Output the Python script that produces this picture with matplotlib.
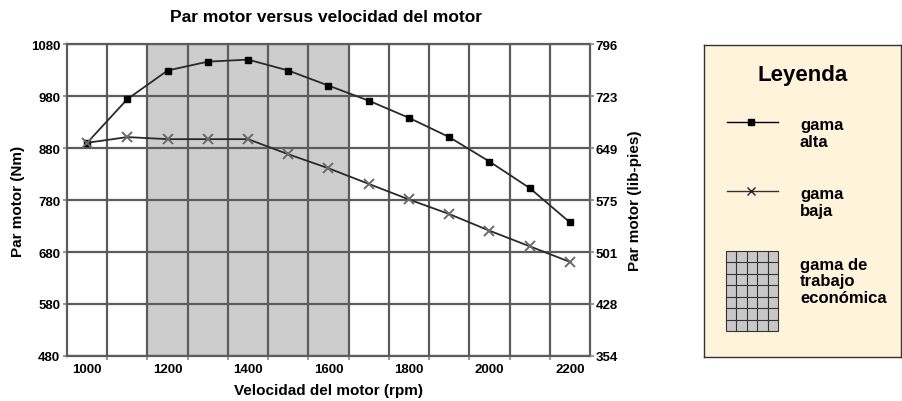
import matplotlib
matplotlib.use("Agg")
import matplotlib.pyplot as plt
from matplotlib.patches import Rectangle

plt.rcParams['font.family'] = ['Liberation Sans', 'DejaVu Sans']
plt.rcParams['font.weight'] = 'bold'

rpm = [1000, 1100, 1200, 1300, 1400, 1500, 1600, 1700, 1800, 1900, 2000, 2100, 2200]
gama_alta = [890, 974, 1029, 1046, 1050, 1029, 1000, 971, 938, 901, 854, 803, 737]
gama_baja = [890, 901, 897, 897, 897, 868, 841, 811, 781, 753, 721, 691, 661]
econ_range = (1150, 1650)
x_ticks = [1000, 1200, 1400, 1600, 1800, 2000, 2200]
y_ticks = [480, 580, 680, 780, 880, 980, 1080]
y2_labels = ['354', '428', '501', '575', '649', '723', '796']
x_grid = [1050, 1150, 1250, 1350, 1450, 1550, 1650, 1750, 1850, 1950, 2050, 2150]

W, H = 903, 402
fig = plt.figure(figsize=(W / 100, H / 100), dpi=100)
ax = fig.add_axes([67 / W, 1 - 357 / H, (590 - 67) / W, (357 - 45) / H])
ax.set_xlim(950, 2250)
ax.set_ylim(480, 1080)

gc = '#5c5c5c'
ax.axvspan(*econ_range, color='#cdcdcd', zorder=0, lw=0)
for xg in x_grid:
    ax.axvline(xg, color=gc, lw=1.6, zorder=1)
for yg in y_ticks:
    ax.axhline(yg, color=gc, lw=1.6, zorder=1)
for s in ax.spines.values():
    s.set_color(gc)
    s.set_linewidth(1.6)

ax.plot(rpm, gama_alta, color='#2a2a2a', lw=1.3, marker='s', ms=4.5,
        mfc='black', mec='black', zorder=3)
ax.plot(rpm, gama_baja, color='#2a2a2a', lw=1.3, marker='x', ms=6.5,
        mec='#6a6a6a', mew=1.4, zorder=3)

ax.set_xticks(x_ticks)
ax.set_xticks(x_grid, minor=True)
ax.set_yticks(y_ticks)
ax.tick_params(axis='x', which='major', length=0, labelsize=9.5, pad=5)
ax.tick_params(axis='x', which='minor', length=3, width=1.2, color='#888888')
ax.tick_params(axis='y', length=3, width=1.2, color='#888888', labelsize=9.5, pad=2)
for lab in ax.get_xticklabels() + ax.get_yticklabels():
    lab.set_fontweight('bold')

ax2 = ax.twinx()
ax2.set_ylim(480, 1080)
ax2.set_yticks(y_ticks)
ax2.set_yticklabels(y2_labels, fontweight='bold')
ax2.tick_params(axis='y', length=3, width=1.2, color='#888888', labelsize=9.5, pad=1)
for s in ax2.spines.values():
    s.set_visible(False)

ax.set_xlabel('Velocidad del motor (rpm)', fontsize=11, fontweight='bold', labelpad=6)
ax.set_ylabel('Par motor (Nm)', fontsize=11, fontweight='bold', labelpad=4)
ax2.set_ylabel('Par motor (lib-pies)', fontsize=11, fontweight='bold', labelpad=7)
fig.text(326 / W, 1 - 17 / H, 'Par motor versus velocidad del motor',
         ha='center', va='center', fontsize=12.5, fontweight='bold')

# Legend panel
lx0, lx1, ly0, ly1 = 704, 901, 46, 358
lg = fig.add_axes([lx0 / W, 1 - ly1 / H, (lx1 - lx0) / W, (ly1 - ly0) / H])
lg.set_xlim(lx0, lx1)
lg.set_ylim(ly1, ly0)
lg.set_facecolor('#fff3dc')
lg.set_xticks([])
lg.set_yticks([])
for s in lg.spines.values():
    s.set_color('#333333')
    s.set_linewidth(1.0)

lg.text(803, 76, 'Leyenda', ha='center', va='center', fontsize=16, fontweight='bold')
lg.plot([727, 778], [123, 123], color='black', lw=1)
lg.plot([751], [123], marker='s', ms=5, color='black')
lg.text(800, 134, 'gama\nalta', ha='left', va='center', fontsize=12, fontweight='bold',
        linespacing=1.1)
lg.plot([727, 778], [192, 192], color='#333333', lw=1)
lg.plot([751], [192], marker='x', ms=6, mec='#222222', mew=1.0)
lg.text(800, 203, 'gama\nbaja', ha='left', va='center', fontsize=12, fontweight='bold',
        linespacing=1.1)
gx0, gx1, gy0, gy1 = 726, 778, 252, 332
lg.add_patch(Rectangle((gx0, gy0), gx1 - gx0, gy1 - gy0, facecolor='#c8c8c8',
                       edgecolor='#333333', lw=0.8))
for i in range(1, 5):
    xx = gx0 + i * (gx1 - gx0) / 5
    lg.plot([xx, xx], [gy0, gy1], color='#333333', lw=0.8)
for j in range(1, 7):
    yy = gy0 + j * (gy1 - gy0) / 7
    lg.plot([gx0, gx1], [yy, yy], color='#333333', lw=0.8)
lg.text(800, 282, 'gama de\ntrabajo\neconómica', ha='left', va='center', fontsize=12,
        fontweight='bold', linespacing=1.1)

fig.savefig('out.png', dpi=100)
